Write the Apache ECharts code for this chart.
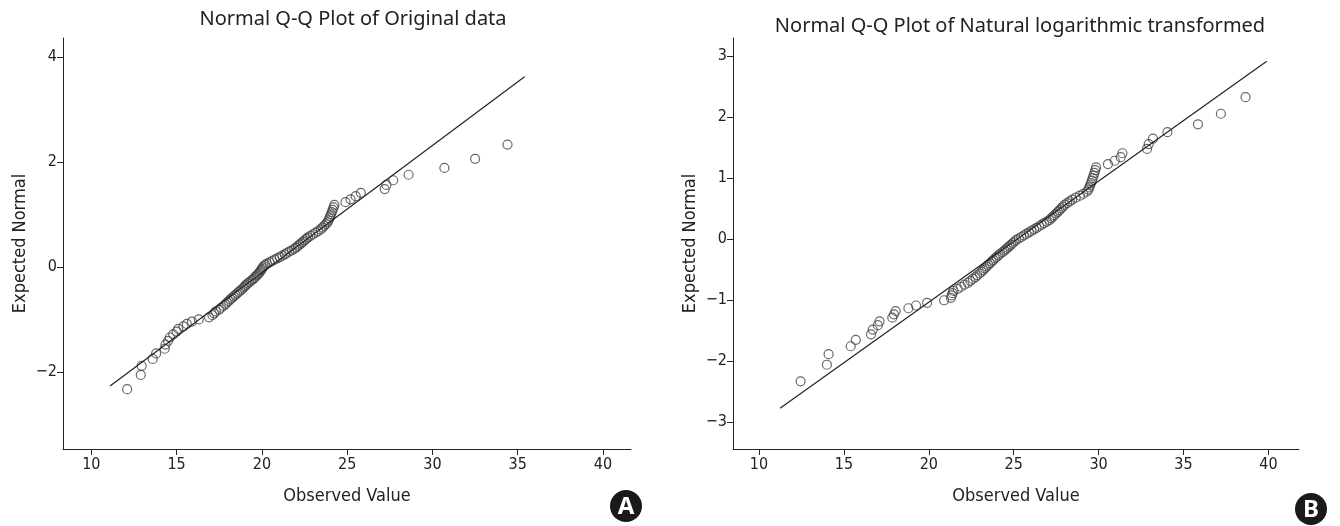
<!DOCTYPE html>
<html>
<head>
<meta charset="utf-8">
<script src="https://cdn.jsdelivr.net/npm/echarts@6/dist/echarts.min.js"></script>
<style>
  html, body { margin: 0; padding: 0; background: #fff; }
  #chart { width: 1340px; height: 526px; }
</style>
</head>
<body>
<div id="chart"></div>
<script>
// expected normal values (same ranks in both panels)
var expected = [-2.330,-2.058,-1.885,-1.755,-1.650,-1.560,-1.481,-1.410,-1.346,-1.287,
  -1.232,-1.180,-1.132,-1.087,-1.043,-1.001,-0.961,-0.922,-0.885,-0.849,
  -0.814,-0.779,-0.746,-0.714,-0.682,-0.651,-0.621,-0.591,-0.562,-0.533,
  -0.505,-0.477,-0.449,-0.422,-0.395,-0.368,-0.342,-0.315,-0.290,-0.264,
  -0.238,-0.213,-0.187,-0.162,-0.137,-0.112,-0.087,-0.062,-0.037,-0.012,
  0.012,0.037,0.062,0.087,0.112,0.137,0.162,0.187,0.213,0.238,
  0.264,0.290,0.315,0.342,0.368,0.395,0.422,0.449,0.477,0.505,
  0.533,0.562,0.591,0.621,0.651,0.682,0.714,0.746,0.779,0.814,
  0.849,0.885,0.922,0.961,1.001,1.043,1.087,1.132,1.180,1.232,
  1.287,1.346,1.410,1.481,1.560,1.650,1.755,1.885,2.058,2.330];

// observed values, panel A (original data)
var observedA = [12.1,12.9,12.95,13.6,13.8,14.3,14.35,14.5,14.6,14.8,
  15.0,15.1,15.4,15.6,15.9,16.3,16.9,17.1,17.2,17.3,
  17.5,17.6,17.75,17.85,17.95,18.05,18.15,18.25,18.35,18.45,
  18.55,18.65,18.75,18.85,18.93,19.0,19.08,19.17,19.27,19.38,
  19.47,19.55,19.62,19.7,19.78,19.85,19.9,19.95,20.0,20.05,
  20.1,20.2,20.3,20.45,20.6,20.75,20.9,21.05,21.2,21.35,
  21.45,21.6,21.75,21.9,22.0,22.1,22.2,22.3,22.4,22.5,
  22.6,22.7,22.85,23.0,23.15,23.3,23.45,23.55,23.65,23.75,
  23.85,23.9,23.95,24.0,24.05,24.1,24.15,24.2,24.25,24.9,
  25.2,25.5,25.8,27.2,27.3,27.7,28.6,30.7,32.5,34.4];

// observed values, panel B (log transformed)
var observedB = [12.45,14.0,14.1,15.4,15.7,16.6,16.7,17.0,17.1,17.85,
  17.95,18.05,18.8,19.25,19.9,20.9,21.3,21.35,21.4,21.45,
  21.7,21.9,22.1,22.3,22.45,22.6,22.75,22.85,23.0,23.1,
  23.2,23.3,23.4,23.5,23.6,23.7,23.8,23.9,24.0,24.1,
  24.2,24.35,24.45,24.55,24.65,24.75,24.85,24.95,25.05,25.15,
  25.3,25.45,25.6,25.75,25.9,26.05,26.2,26.35,26.5,26.65,
  26.8,26.95,27.1,27.2,27.3,27.4,27.5,27.6,27.7,27.8,
  27.9,28.0,28.15,28.3,28.45,28.65,28.9,29.1,29.3,29.4,
  29.45,29.5,29.55,29.6,29.65,29.7,29.75,29.8,29.85,30.55,
  30.95,31.3,31.4,32.85,32.95,33.2,34.05,35.85,37.2,38.65];

// reference lines (end points)
var lineA = [[11.1, -2.27], [35.4, 3.62]];
var lineB = [[11.24, -2.77], [39.9, 2.92]];

var xTicks = [10, 15, 20, 25, 30, 35, 40];
var yTicksA = [-2, 0, 2, 4];
var yTicksB = [-3, -2, -1, 0, 1, 2, 3];

var titles = ['Normal Q-Q Plot of Original data', 'Normal Q-Q Plot of Natural logarithmic transformed'];

var axisFont = "'Liberation Sans Narrow', 'DejaVu Sans Condensed', sans-serif";
var titleFont = "'Noto Sans', 'DejaVu Sans', sans-serif";

function pairs(xs, ys) {
    var out = [];
    for (var i = 0; i < xs.length; i++) {
        out.push([xs[i], ys[i]]);
    }
    return out;
}

function minus(v) {
    return String(v).replace('-', '\u2212');
}

function xAxisOf(idx, min, max) {
    return {
        type: 'value', gridIndex: idx, min: min, max: max,
        name: 'Observed Value', nameLocation: 'middle', nameGap: 38,
        nameTextStyle: { fontSize: 18, color: '#222', fontFamily: axisFont },
        splitLine: { show: false },
        axisLine: { onZero: false, lineStyle: { color: '#222', width: 1 } },
        axisTick: { show: true, length: 6, customValues: xTicks, lineStyle: { color: '#222' } },
        axisLabel: { customValues: xTicks, fontSize: 16, color: '#222', margin: 8, fontFamily: axisFont }
    };
}

function yAxisOf(idx, min, max, ticks) {
    return {
        type: 'value', gridIndex: idx, min: min, max: max,
        name: 'Expected Normal', nameLocation: 'middle', nameGap: 34, nameRotate: 90,
        nameTextStyle: { fontSize: 18, color: '#222', fontFamily: axisFont },
        splitLine: { show: false },
        axisLine: { show: true, onZero: false, lineStyle: { color: '#222', width: 1 } },
        axisTick: { show: true, length: 6, customValues: ticks, lineStyle: { color: '#222' } },
        axisLabel: { customValues: ticks, fontSize: 16, color: '#222', margin: 6, fontFamily: axisFont,
                     formatter: minus }
    };
}

function badge(cx, cy, letter) {
    return {
        type: 'group',
        children: [
            { type: 'circle', shape: { cx: cx, cy: cy, r: 16 }, style: { fill: '#1a1a1a' } },
            { type: 'text', x: cx, y: cy + 1, style: {
                text: letter, fill: '#fff', stroke: '#1a1a1a', lineWidth: 1,
                font: 'bold 24px ' + titleFont, align: 'center', verticalAlign: 'middle' } }
        ]
    };
}

var chart = echarts.init(document.getElementById('chart'), null, { renderer: 'canvas' });

var pointStyle = { color: 'transparent', borderColor: '#444', borderWidth: 1.2 };

var option = {
    backgroundColor: '#fff',
    animation: false,
    title: [
        { text: titles[0], left: 348, top: 4, textAlign: 'center',
          textStyle: { fontSize: 20, fontWeight: 'normal', color: '#222', fontFamily: titleFont } },
        { text: titles[1], left: 1015, top: 11, textAlign: 'center',
          textStyle: { fontSize: 20, fontWeight: 'normal', color: '#222', fontFamily: titleFont } }
    ],
    grid: [
        { left: 63, top: 38, width: 568, height: 411 },
        { left: 733, top: 38, width: 566, height: 411 }
    ],
    xAxis: [xAxisOf(0, 8.34, 41.64), xAxisOf(1, 8.47, 41.8)],
    yAxis: [yAxisOf(0, -3.47, 4.36, yTicksA), yAxisOf(1, -3.44, 3.3, yTicksB)],
    series: [
        { type: 'line', xAxisIndex: 0, yAxisIndex: 0, data: lineA, symbol: 'none',
          lineStyle: { color: '#222', width: 1.2 }, silent: true },
        { type: 'scatter', xAxisIndex: 0, yAxisIndex: 0, data: pairs(observedA, expected),
          symbol: 'circle', symbolSize: 9, itemStyle: pointStyle },
        { type: 'line', xAxisIndex: 1, yAxisIndex: 1, data: lineB, symbol: 'none',
          lineStyle: { color: '#222', width: 1.2 }, silent: true },
        { type: 'scatter', xAxisIndex: 1, yAxisIndex: 1, data: pairs(observedB, expected),
          symbol: 'circle', symbolSize: 9, itemStyle: pointStyle }
    ],
    graphic: [badge(626, 506, 'A'), badge(1311, 509, 'B')]
};

chart.setOption(option);
</script>
</body>
</html>
